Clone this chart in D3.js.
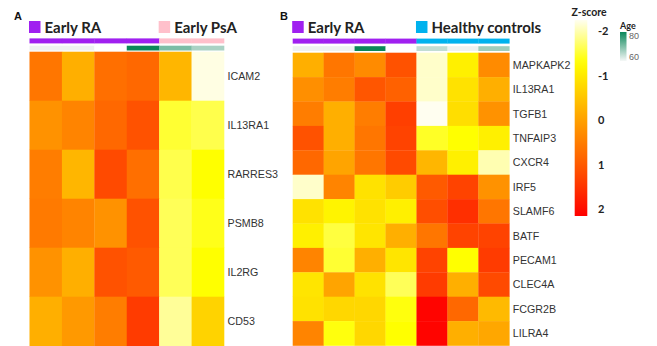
<!DOCTYPE html>
<html>
<head>
<meta charset="utf-8">
<script src="https://cdn.jsdelivr.net/npm/d3@7"></script>
<style>
  html, body { margin: 0; padding: 0; background: #fff; }
  svg { display: block; }
</style>
</head>
<body>
<svg id="chart" width="657" height="346"></svg>
<script>
// ---- data ----
const groupsA = ['Early RA', 'Early RA', 'Early RA', 'Early RA', 'Early PsA', 'Early PsA'];
const genesA = ['ICAM2', 'IL13RA1', 'RARRES3', 'PSMB8', 'IL2RG', 'CD53'];
const agesA = [58, 58, null, 82, 70, 66];
const valuesA = [
    [0.6, -0.2, 0.7, 0.8, -0.3, -2.2],
    [0.2, 0.4, 0.8, 1.1, -1.5, -1.6],
    [0.5, -0.3, 1.2, 0.7, -1.6, -1.3],
    [0.55, 0.4, 0.2, 1.1, -1.65, -1.4],
    [0.2, -0.2, 1.1, 1.0, -1.65, -1.3],
    [-0.2, 0.1, 0.5, 1.4, -1.9, -0.7]
];

const groupsB = ['Early RA', 'Early RA', 'Early RA', 'Early RA', 'Healthy controls', 'Healthy controls', 'Healthy controls'];
const genesB = ['MAPKAPK2', 'IL13RA1', 'TGFB1', 'TNFAIP3', 'CXCR4', 'IRF5', 'SLAMF6', 'BATF', 'PECAM1', 'CLEC4A', 'FCGR2B', 'LILRA4'];
const agesB = [58, 58, 82, null, 64, 60, 67];
const valuesB = [
    [-0.2, 0.6, 0.3, 1.1, -2.1, -1.1, 0.3],
    [0.25, 0.5, 1.05, 0.9, -2.1, -0.9, -0.2],
    [0.5, -0.2, 0.5, 1.35, -2.3, -0.85, 0.2],
    [1.1, -0.2, 0.6, 1.3, -1.45, -1.3, -1.1],
    [0.8, -0.05, 0.6, 1.2, -0.3, -1.1, -2.0],
    [-2.1, 0.4, -0.9, -0.6, 1.0, 1.3, 0.2],
    [-0.9, -1.15, -0.9, -1.1, 1.15, 1.55, 0.6],
    [-1.1, -1.55, -0.95, -0.2, 0.6, 1.3, 1.3],
    [0.4, -1.5, -0.2, -0.95, 1.3, -1.3, 1.4],
    [-0.95, -0.05, -0.9, -1.65, 1.4, -0.2, 1.2],
    [-0.9, -0.75, -0.75, -1.35, 2.1, 0.8, -0.35],
    [0.4, -1.35, -0.75, -1.3, 2.1, -0.2, -0.1]
];

const zTicks = [-2, -1, 0, 1, 2];
const ageTicks = [80, 60];

// ---- styles ----
const GROUP_COLORS = {
    'Early RA': '#a020f0',
    'Early PsA': '#ffc0cb',
    'Healthy controls': '#00b2ee'
};
const LABEL_FONT = 'Liberation Sans, Arial, sans-serif';
const LEGEND_FONT = 'Lato, Open Sans, sans-serif';

const zDomain = [-2.25, -1.3, 0, 1, 2.15];
const zColor = d3.scaleLinear()
    .domain(zDomain)
    .range(['#fffef0', '#ffff00', '#ffa000', '#ff5a00', '#ff0000'])
    .clamp(true);
const ageColor = d3.scaleLinear()
    .domain([60, 80])
    .range(['#eef2f1', '#0b875a'])
    .clamp(true);

const svg = d3.select('#chart');

function drawPanel(p) {
    const g = svg.append('g').attr('class', 'panel-' + p.tag);
    const cols = d3.range(p.groups.length);
    const x = d3.scaleBand().domain(cols).range([p.x0, p.x1]);
    const y = d3.scaleBand().domain(p.genes).range([p.y0, p.y1]);

    // panel letter
    g.append('text')
        .attr('x', p.tagX).attr('y', 20)
        .attr('font-family', LABEL_FONT)
        .attr('font-weight', 'bold')
        .attr('font-size', 11)
        .attr('fill', '#111')
        .text(p.tag);

    // group legend: one square per group, placed at group start
    const uniq = Array.from(new Set(p.groups));
    uniq.forEach(name => {
        const start = x(p.groups.indexOf(name));
        g.append('rect')
            .attr('x', start - 0.5).attr('y', 21)
            .attr('width', 11.5).attr('height', 12)
            .attr('fill', GROUP_COLORS[name]);
        g.append('text')
            .attr('x', start + 15).attr('y', 32.5)
            .attr('font-family', LEGEND_FONT)
            .attr('font-weight', 'bold')
            .attr('font-size', 15)
            .attr('fill', '#222')
            .text(name);
    });

    // group annotation bar
    g.selectAll('.grp')
        .data(cols)
        .join('rect')
        .attr('class', 'grp')
        .attr('x', i => x(i))
        .attr('y', p.groupY)
        .attr('width', x.bandwidth() + 0.3)
        .attr('height', 5)
        .attr('fill', i => GROUP_COLORS[p.groups[i]]);

    // age annotation bar
    g.selectAll('.age')
        .data(cols)
        .join('rect')
        .attr('class', 'age')
        .attr('x', i => x(i))
        .attr('y', p.ageY)
        .attr('width', x.bandwidth() + 0.3)
        .attr('height', 4.8)
        .attr('fill', i => p.ages[i] == null ? '#ffffff' : ageColor(p.ages[i]));

    // cells
    const cells = [];
    p.values.forEach((row, r) => row.forEach((v, c) => cells.push({gene: p.genes[r], col: c, v})));
    g.selectAll('.cell')
        .data(cells)
        .join('rect')
        .attr('class', 'cell')
        .attr('x', d => x(d.col))
        .attr('y', d => y(d.gene))
        .attr('width', x.bandwidth() + 0.3)
        .attr('height', y.bandwidth() + 0.3)
        .attr('fill', d => zColor(d.v));

    // row labels
    g.selectAll('.row-label')
        .data(p.genes)
        .join('text')
        .attr('class', 'row-label')
        .attr('x', p.x1 + 3.5)
        .attr('y', d => y(d) + y.bandwidth() / 2)
        .attr('dy', '0.36em')
        .attr('font-family', LABEL_FONT)
        .attr('font-size', 10.7)
        .attr('fill', '#333')
        .text(d => d);
}

drawPanel({tag: 'A', tagX: 14, groups: groupsA, genes: genesA, ages: agesA, values: valuesA,
    x0: 29.5, x1: 224, y0: 51.7, y1: 345.7, groupY: 38.4, ageY: 45.7});
drawPanel({tag: 'B', tagX: 280, groups: groupsB, genes: genesB, ages: agesB, values: valuesB,
    x0: 292.7, x1: 509.3, y0: 52.7, y1: 345.5, groupY: 38.6, ageY: 46.2});

// ---- Z-score colour bar ----
const defs = svg.append('defs');
const zy = d3.scaleLinear().domain([zDomain[0], zDomain[zDomain.length - 1]]).range([20, 216]);
const zGrad = defs.append('linearGradient')
    .attr('id', 'zgrad').attr('x1', 0).attr('x2', 0).attr('y1', 0).attr('y2', 1);
zGrad.selectAll('stop')
    .data(d3.range(0, 1.0001, 0.05))
    .join('stop')
    .attr('offset', t => t)
    .attr('stop-color', t => zColor(zDomain[0] + t * (zDomain[zDomain.length - 1] - zDomain[0])));

const legend = svg.append('g').attr('class', 'z-legend');
legend.append('text')
    .attr('x', 571.5).attr('y', 16)
    .attr('font-family', LEGEND_FONT)
    .attr('font-weight', 'bold')
    .attr('font-size', 10.5)
    .attr('fill', '#222')
    .text('Z-score');
legend.append('rect')
    .attr('x', 574.7).attr('y', zy.range()[0])
    .attr('width', 12.6).attr('height', zy.range()[1] - zy.range()[0])
    .attr('fill', 'url(#zgrad)');
legend.selectAll('.ztick')
    .data(zTicks)
    .join('text')
    .attr('class', 'ztick')
    .attr('x', 598)
    .attr('y', d => zy(d))
    .attr('dy', '0.36em')
    .attr('font-family', LEGEND_FONT)
    .attr('font-weight', 'bold')
    .attr('font-size', 11)
    .attr('fill', '#222')
    .text(d => d);

// ---- Age legend ----
const ay = d3.scaleLinear().domain([80, 60]).range([36, 57]);
const aGrad = defs.append('linearGradient')
    .attr('id', 'agrad').attr('x1', 0).attr('x2', 0).attr('y1', 0).attr('y2', 1);
aGrad.append('stop').attr('offset', 0).attr('stop-color', ageColor(80));
aGrad.append('stop').attr('offset', 1).attr('stop-color', '#f6f8f7');
const ageLeg = svg.append('g').attr('class', 'age-legend');
ageLeg.append('text')
    .attr('x', 620).attr('y', 29)
    .attr('font-family', LEGEND_FONT)
    .attr('font-weight', 'bold')
    .attr('font-size', 9)
    .attr('fill', '#222')
    .text('Age');
ageLeg.append('rect')
    .attr('x', 620).attr('y', 32)
    .attr('width', 6.5).attr('height', 29)
    .attr('fill', 'url(#agrad)');
ageLeg.selectAll('.atick')
    .data(ageTicks)
    .join('text')
    .attr('class', 'atick')
    .attr('x', 629)
    .attr('y', d => ay(d))
    .attr('dy', '0.36em')
    .attr('font-family', LABEL_FONT)
    .attr('font-size', 9)
    .attr('fill', '#666')
    .text(d => d);
</script>
</body>
</html>
